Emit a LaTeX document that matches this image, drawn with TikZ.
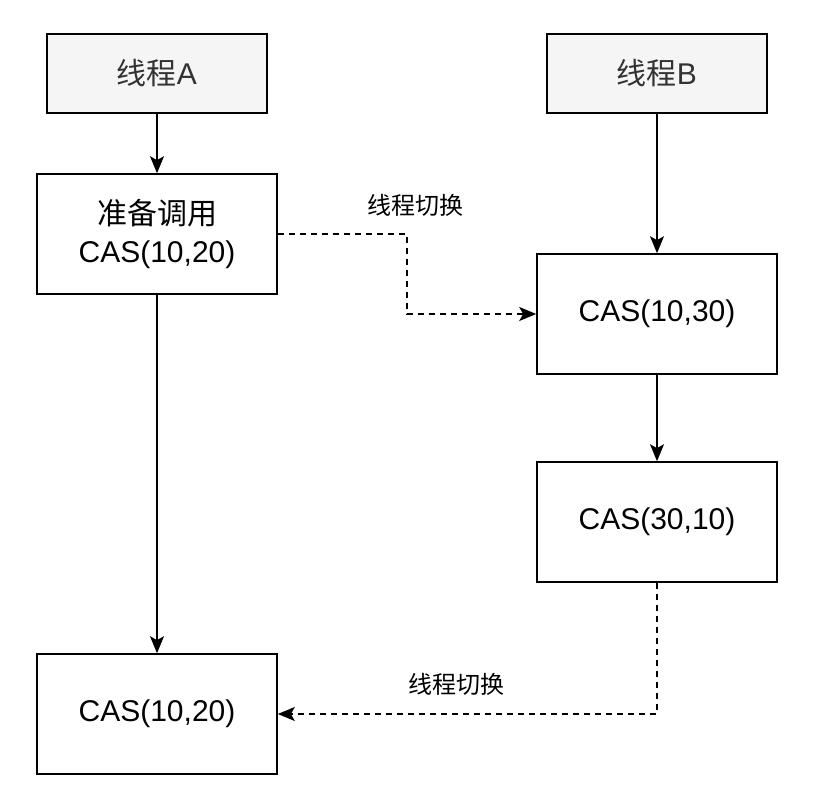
\documentclass[tikz,border=0pt]{standalone}
\usepackage{fontspec}
\setmainfont{Liberation Sans}
\newfontfamily\cjk{Noto Sans CJK SC}
\usetikzlibrary{arrows.meta}
\begin{document}
\begin{tikzpicture}[x=1pt,y=-1pt,
  box/.style={draw=black,line width=1.6pt,minimum width=240pt,minimum height=120pt,inner sep=0pt,font=\fontsize{30}{38}\selectfont,align=center},
  head/.style={box,fill={rgb,255:red,245;green,245;blue,245},minimum width=220pt,minimum height=79pt,text={rgb,255:red,51;green,51;blue,51}},
  conn/.style={line width=1.6pt,-{Stealth[length=17pt,width=14pt,inset=4pt]}},
  dconn/.style={conn,dash pattern=on 6pt off 5pt},
  lbl/.style={font=\cjk\fontsize{24}{28}\selectfont,inner sep=0pt}]
\useasboundingbox (0,0) rectangle (815,800);
\node[head] (ta) at (157,73.5) {{\cjk 线程}A};
\node[head] (tb) at (657,73.5) {{\cjk 线程}B};
\node[box] (a1) at (157,234) {{\cjk 准备调用}\\CAS(10,20)};
\node[box] (b1) at (657,314) {CAS(10,30)};
\node[box] (b2) at (657,522) {CAS(30,10)};
\node[box] (a2) at (157,714) {CAS(10,20)};
\draw[conn] (ta) -- (a1);
\draw[conn] (tb) -- (b1);
\draw[conn] (b1) -- (b2);
\draw[conn] (a1) -- (a2);
\coordinate (p1) at (407,234);
\coordinate (p2) at (407,314);
\draw[dconn] (a1.east) -- (p1) -- (p2) -- (b1.west);
\coordinate (p3) at (657,714);
\draw[dconn] (b2.south) -- (p3) -- (a2.east);
\node[lbl] (l1) at (415,205) {线程切换};
\node[lbl] (l2) at (456,684) {线程切换};
\end{tikzpicture}
\end{document}
